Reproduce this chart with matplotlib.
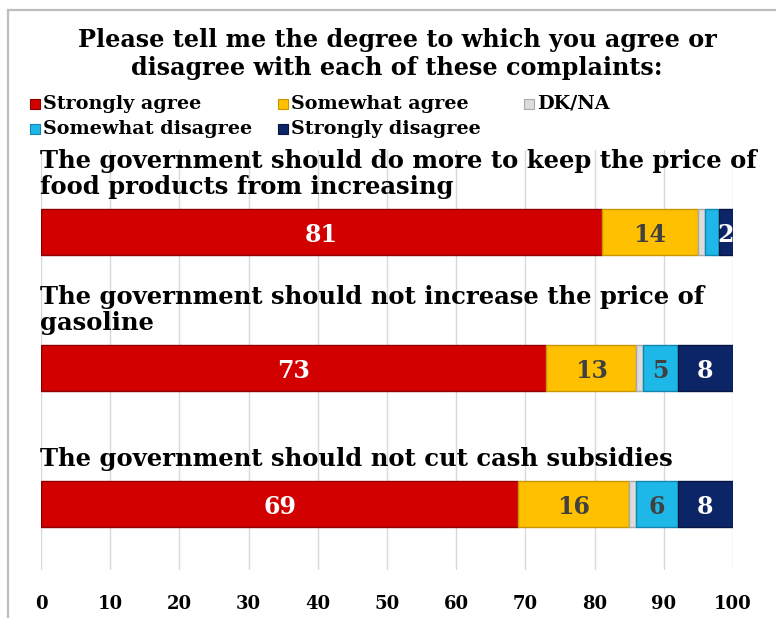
import matplotlib
matplotlib.use("Agg")
import matplotlib.pyplot as plt
from matplotlib.patches import Rectangle

statements = [
    "The government should do more to keep the price of\nfood products from increasing",
    "The government should not increase the price of\ngasoline",
    "The government should not cut cash subsidies",
]
series_names = ["Strongly agree", "Somewhat agree", "DK/NA",
                "Somewhat disagree", "Strongly disagree"]
strongly_agree = [81, 73, 69]
somewhat_agree = [14, 13, 16]
dk_na = [1, 1, 1]
somewhat_disagree = [2, 5, 6]
strongly_disagree = [2, 8, 8]
x_ticks = [0, 10, 20, 30, 40, 50, 60, 70, 80, 90, 100]

series = [strongly_agree, somewhat_agree, dk_na, somewhat_disagree, strongly_disagree]
colors = ["#D30000", "#FFC000", "#DCDCDC", "#1DB7E8", "#0C2566"]
edge_colors = ["#8E0000", "#C89600", "#A8A8A8", "#1287AD", "#061640"]
label_colors = ["white", "#404040", None, "#404040", "white"]
label_min = [1, 1, None, 3, 1]

FONT = "DejaVu Serif"
W, H = 776, 618
fig = plt.figure(figsize=(W / 100, H / 100), dpi=100)

# outer frame of the chart area
fig.patches.append(Rectangle((8 / W, -0.05), 1.2, 1 - 10 / H + 0.05,
                             transform=fig.transFigure, fill=False,
                             edgecolor="#BEBEBE", linewidth=1.6))

fig.text(397 / W, 1 - 54 / H,
         "Please tell me the degree to which you agree or\n"
         "disagree with each of these complaints:",
         ha="center", va="center", fontsize=17.2, fontweight="bold",
         family=FONT, linespacing=1.2)

# legend
legend_pos = [(30, 104), (278, 104), (524, 104), (30, 129), (278, 129)]
for name, col, ec, (lx, ly) in zip(series_names, colors, edge_colors, legend_pos):
    fig.patches.append(Rectangle((lx / W, 1 - (ly + 5) / H), 10 / W, 10 / H,
                                 transform=fig.transFigure, facecolor=col,
                                 edgecolor=ec, linewidth=0.8))
    fig.text((lx + 13) / W, 1 - ly / H, name, ha="left", va="center",
             fontsize=13.8, fontweight="bold", family=FONT)

ax = fig.add_axes([41 / W, 1 - 570 / H, 692 / W, 420 / H])
ypos = list(range(len(statements)))
bar_h = 0.345
left = [0] * len(statements)
for vals, col, ec, lc, lmin in zip(series, colors, edge_colors, label_colors, label_min):
    ax.barh(ypos, vals, left=left, height=bar_h, color=col,
            edgecolor=ec, linewidth=1.0, zorder=3)
    if lc is not None:
        for y, v, l in zip(ypos, vals, left):
            if v >= lmin:
                ax.text(l + v / 2, y + 0.02, f"{v}", ha="center", va="center",
                        color=lc, fontsize=17, fontweight="bold", family=FONT,
                        zorder=5)
    left = [a + b for a, b in zip(left, vals)]

for y, s in zip(ypos, statements):
    ax.annotate(s, xy=(0, y - bar_h / 2), xytext=(-1, 7), textcoords="offset points",
                ha="left", va="bottom", fontsize=17.5, fontweight="bold",
                family=FONT, linespacing=1.08, annotation_clip=False)

ax.set_xlim(0, 100)
ax.set_ylim(2.485, -0.603)
ax.set_xticks(x_ticks)
ax.set_xticklabels([str(t) for t in x_ticks], fontsize=13, fontweight="bold",
                   family=FONT)
ax.set_yticks([])
ax.tick_params(axis="x", length=0, pad=18)
ax.xaxis.grid(True, color="#D9D9D9", linewidth=1.0, zorder=0)
ax.set_axisbelow(True)
for sp in ax.spines.values():
    sp.set_visible(False)

fig.savefig("out.png", dpi=100)
